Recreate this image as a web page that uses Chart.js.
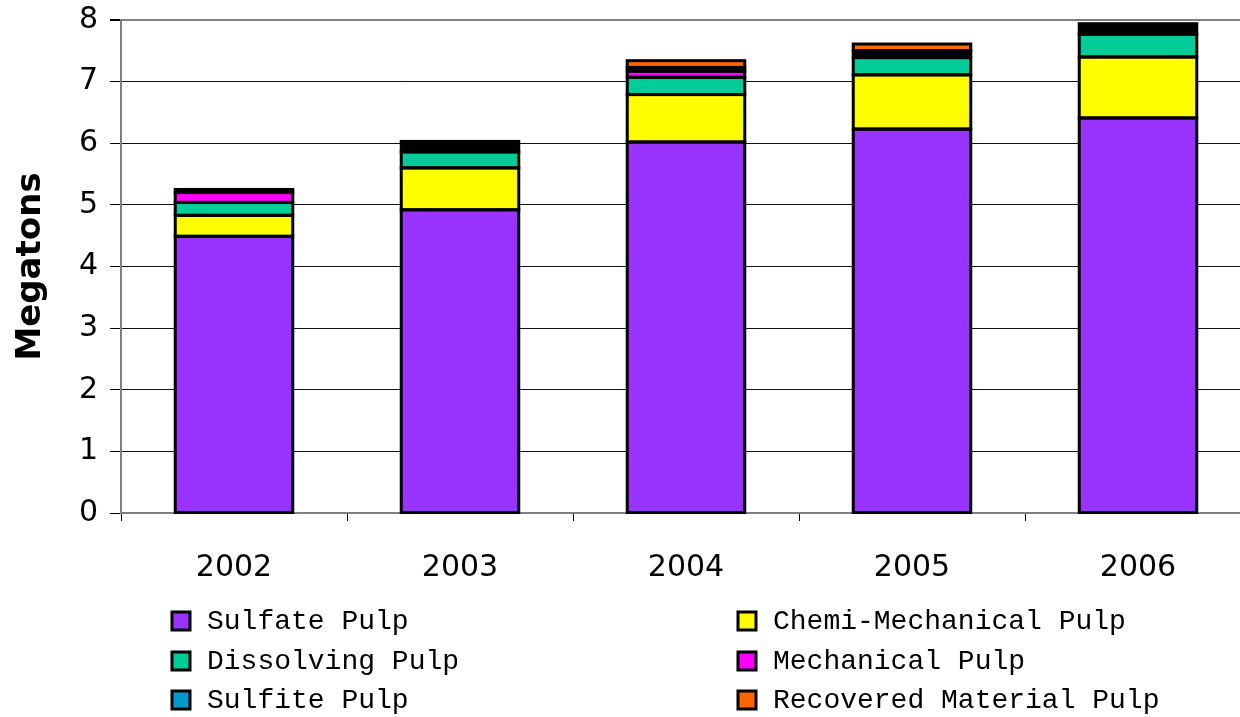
<!DOCTYPE html>
<html><head><meta charset="utf-8">
<script src="https://cdn.jsdelivr.net/npm/chart.js@4"></script>
<style>html,body{margin:0;padding:0;background:#fff;overflow:hidden;width:1240px;height:717px}canvas{display:block}</style>
</head><body>
<canvas id="c" width="1251" height="717"></canvas>
<script>
const years = ['2002', '2003', '2004', '2005', '2006'];
const sulfatePulp = [4.49, 4.92, 6.02, 6.23, 6.41];
const chemiMechanicalPulp = [0.34, 0.68, 0.77, 0.88, 0.99];
const dissolvingPulp = [0.21, 0.26, 0.28, 0.28, 0.37];
const mechanicalPulp = [0.16, 0, 0.10, 0, 0];
const sulfitePulp = [0.05, 0.17, 0.06, 0.11, 0.17];
const recoveredMaterialPulp = [0, 0, 0.11, 0.11, 0];
const seriesLabels = ['Sulfate Pulp', 'Chemi-Mechanical Pulp', 'Dissolving Pulp', 'Mechanical Pulp', 'Sulfite Pulp', 'Recovered Material Pulp'];
const barColors = ['#9933FF', '#FFFF00', '#00CC99', '#FF00FF', '#000000', '#FF6600'];
const legendColors = ['#9933FF', '#FFFF00', '#00CC99', '#FF00FF', '#0099CC', '#FF6600'];
const yMin = 0, yMax = 8, yStep = 1;

const seriesValues = [sulfatePulp, chemiMechanicalPulp, dissolvingPulp, mechanicalPulp, sulfitePulp, recoveredMaterialPulp];

// Excel-style outline: stroke centred on each segment edge
const segmentOutline = {
  id: 'segmentOutline',
  afterDatasetsDraw(chart) {
    const ctx = chart.ctx;
    ctx.save();
    ctx.lineWidth = 3;
    ctx.strokeStyle = '#000';
    ctx.lineJoin = 'miter';
    chart.data.datasets.forEach((ds, i) => {
      chart.getDatasetMeta(i).data.forEach(el => {
        const p = el.getProps(['x', 'y', 'base', 'width'], true);
        const h = Math.abs(p.base - p.y);
        if (h < 0.5) return;
        ctx.strokeRect(p.x - p.width / 2, Math.min(p.y, p.base), p.width, h);
      });
    });
    ctx.restore();
  }
};

const gridLegend = {
  id: 'gridLegend',
  afterDraw(chart) {
    const ctx = chart.ctx;
    const colX = [172, 738];
    const rowY = [621, 661, 700];
    ctx.save();
    ctx.font = '28px "Liberation Mono"';
    ctx.textBaseline = 'middle';
    ctx.textAlign = 'left';
    chart.data.datasets.forEach((ds, i) => {
      const x = colX[i % 2], y = rowY[Math.floor(i / 2)];
      ctx.fillStyle = legendColors[i];
      ctx.fillRect(x, y - 9, 18, 18);
      ctx.lineWidth = 3;
      ctx.strokeStyle = '#000';
      ctx.strokeRect(x, y - 9, 18, 18);
      ctx.fillStyle = '#000';
      ctx.fillText(ds.label, x + 35, y + 1);
    });
    ctx.restore();
  }
};

new Chart(document.getElementById('c'), {
  type: 'bar',
  data: {
    labels: years,
    datasets: seriesValues.map((vals, i) => ({
      label: seriesLabels[i],
      data: vals,
      backgroundColor: barColors[i],
      borderWidth: 0,
      inflateAmount: 0,
      barPercentage: 0.52,
      categoryPercentage: 1.0
    }))
  },
  options: {
    responsive: false,
    animation: false,
    layout: { padding: { top: 20, right: 0, left: 0, bottom: 0 } },
    plugins: { legend: { display: false }, tooltip: { enabled: false } },
    scales: {
      x: {
        stacked: true,
        afterFit(s) { s.height = 204; s.paddingLeft = 0; s.paddingRight = 0; },
        border: { color: '#808080', width: 2 },
        grid: { display: true, drawOnChartArea: false, drawTicks: true, tickLength: 8, tickColor: '#000', offset: true },
        ticks: { color: '#000', font: { family: 'DejaVu Sans', size: 30 }, padding: 29 }
      },
      y: {
        stacked: true,
        min: yMin, max: yMax,
        afterFit(s) { s.width = 121; s.paddingTop = 0; s.paddingBottom = 0; },
        border: { color: '#808080', width: 2 },
        grid: {
          color: c => (c.tick && c.tick.value === yMax) ? '#808080' : '#111',
          lineWidth: c => (c.tick && c.tick.value === yMax) ? 2 : 1,
          tickColor: '#000', tickLength: 11
        },
        ticks: { stepSize: yStep, color: '#000', font: { family: 'DejaVu Sans', size: 30 }, padding: 12 },
        title: { display: true, text: 'Megatons', color: '#000', font: { family: 'DejaVu Sans', size: 34, weight: 'bold' }, padding: { top: 11, bottom: 0 } }
      }
    }
  },
  plugins: [segmentOutline, gridLegend]
});
</script>
</body></html>
